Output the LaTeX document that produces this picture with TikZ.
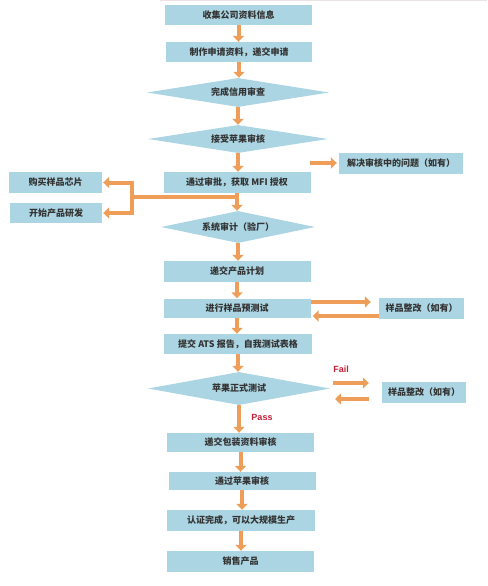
\documentclass[tikz,border=0pt]{standalone}
\usepackage{fontspec}
\newfontfamily\cjk{Noto Sans CJK SC}
\newfontfamily\latf{Liberation Sans}
\usetikzlibrary{shapes.geometric,arrows.meta}
\definecolor{boxblue}{RGB}{172,213,227}
\definecolor{arr}{RGB}{238,158,88}
\definecolor{failred}{RGB}{196,32,56}
\definecolor{topline}{RGB}{236,226,226}
\begin{document}
\begin{tikzpicture}[x=1pt,y=-1pt,
  box/.style={fill=boxblue, inner sep=0pt, font=\cjk\bfseries\fontsize{9}{10}\selectfont, text=black!80},
  dia/.style={box, shape=diamond},
  flow/.style={draw=arr, line width=4pt, -{Triangle[length=6pt,width=11pt]}},
  link/.style={draw=arr, line width=4pt},
  lbl/.style={font=\latf\bfseries\fontsize{9}{10}\selectfont, text=failred}
]
\useasboundingbox (0,0) rectangle (487,586);
\fill[topline] (160,0) rectangle (487,1.5);

% main column
\node[box, minimum width=147pt, minimum height=20pt] (n1) at (238.5,15) {收集公司资料信息};
\node[box, minimum width=146pt, minimum height=20pt] (n2) at (239,52) {制作申请资料，递交申请};
\node[dia, aspect=6.3, minimum width=182pt, minimum height=29pt] (d1) at (238,92.5) {完成信用审查};
\node[dia, aspect=6.4, minimum width=180pt, minimum height=28pt] (d2) at (238,139) {接受苹果审核};
\node[box, minimum width=147pt, minimum height=21pt] (n3) at (237,182.5) {通过审批，获取 MFI 授权};
\node[dia, aspect=4.8, minimum width=154pt, minimum height=32pt] (d3) at (238,227) {系统审计（验厂）};
\node[box, minimum width=147pt, minimum height=21pt] (n4) at (237,271.5) {递交产品计划};
\node[box, minimum width=147pt, minimum height=19pt] (n5) at (237,308) {进行样品预测试};
\node[box, minimum width=148pt, minimum height=20pt] (n6) at (238,344) {提交 ATS 报告，自我测试表格};
\node[dia, aspect=5.5, minimum width=182pt, minimum height=33pt] (d4) at (239,388.5) {苹果正式测试};
\node[box, minimum width=147pt, minimum height=19pt] (n7) at (240.5,442.5) {递交包装资料审核};
\node[box, minimum width=147pt, minimum height=18pt] (n8) at (242,481) {通过苹果审核};
\node[box, minimum width=148pt, minimum height=21pt] (n9) at (241,520.5) {认证完成，可以大规模生产};
\node[box, minimum width=147pt, minimum height=21pt] (n10) at (240.5,561.5) {销售产品};

% side boxes
\node[box, minimum width=124pt, minimum height=21pt] (r1) at (401,163.5) {解决审核中的问题（如有）};
\node[box, minimum width=93pt, minimum height=21pt] (l1) at (55.5,182.5) {购买样品芯片};
\node[box, minimum width=92pt, minimum height=20pt] (l2) at (56,213) {开始产品研发};
\node[box, minimum width=85pt, minimum height=21pt] (r2) at (421.5,308.5) {样品整改（如有）};
\node[box, minimum width=84pt, minimum height=21pt] (r3) at (424,392.5) {样品整改（如有）};

% labels
\node[lbl] (fail) at (341,369) {Fail};
\node[lbl] (pass) at (262,417) {Pass};

% main arrows
\draw[flow] (n1.south) -- (n1.south |- n2.north);
\draw[flow] (n2.south) -- (n2.south |- d1.north);
\draw[flow] (d1.south) -- (d1.south |- d2.north);
\draw[flow] (d2.south) -- (d2.south |- n3.north);
\draw[flow] (n3.south) -- (n3.south |- d3.north);
\draw[flow] (d3.south) -- (d3.south |- n4.north);
\draw[flow] (n4.south) -- (n4.south |- n5.north);
\draw[flow] (n5.south) -- (n5.south |- n6.north);
\draw[flow] (n6.south) -- (n6.south |- d4.north);
\draw[flow] (d4.south) -- (d4.south |- n7.north);
\draw[flow] (n7.south) -- (n7.south |- n8.north);
\draw[flow] (n8.south) -- (n8.south |- n9.north);
\draw[flow] (n9.south) -- (n9.south |- n10.north);

% branch to the left
\coordinate (j) at (239,197);
\coordinate (k) at (132,197);
\draw[link] (j) -- (k);
\draw[link, line cap=rect] (k |- l1.east) -- (k |- l2.east);
\draw[flow, shorten >=1pt] (k |- l1.east) -- (l1.east);
\draw[flow, shorten >=1pt] (k |- l2.east) -- (l2.east);

% arrow to r1
\coordinate (s1) at (310,163);
\draw[flow, shorten >=2pt] (s1) -- (s1 -| r1.west);

% pre-test loop
\draw[flow, shorten >=8pt] ([yshift=6pt]n5.east) -- ([yshift=6pt]n5.east -| r2.west);
\draw[flow, shorten >=2pt] ([yshift=-7.5pt]r2.west) -- ([yshift=-7.5pt]r2.west -| n5.east);

% formal test loop
\coordinate (f1) at (333,383);
\coordinate (f2) at (335,399);
\draw[flow, shorten >=13pt] (f1) -- (f1 -| r3.west);
\draw[flow, shorten <=13pt] (f2 -| r3.west) -- (f2);
\end{tikzpicture}
\end{document}
